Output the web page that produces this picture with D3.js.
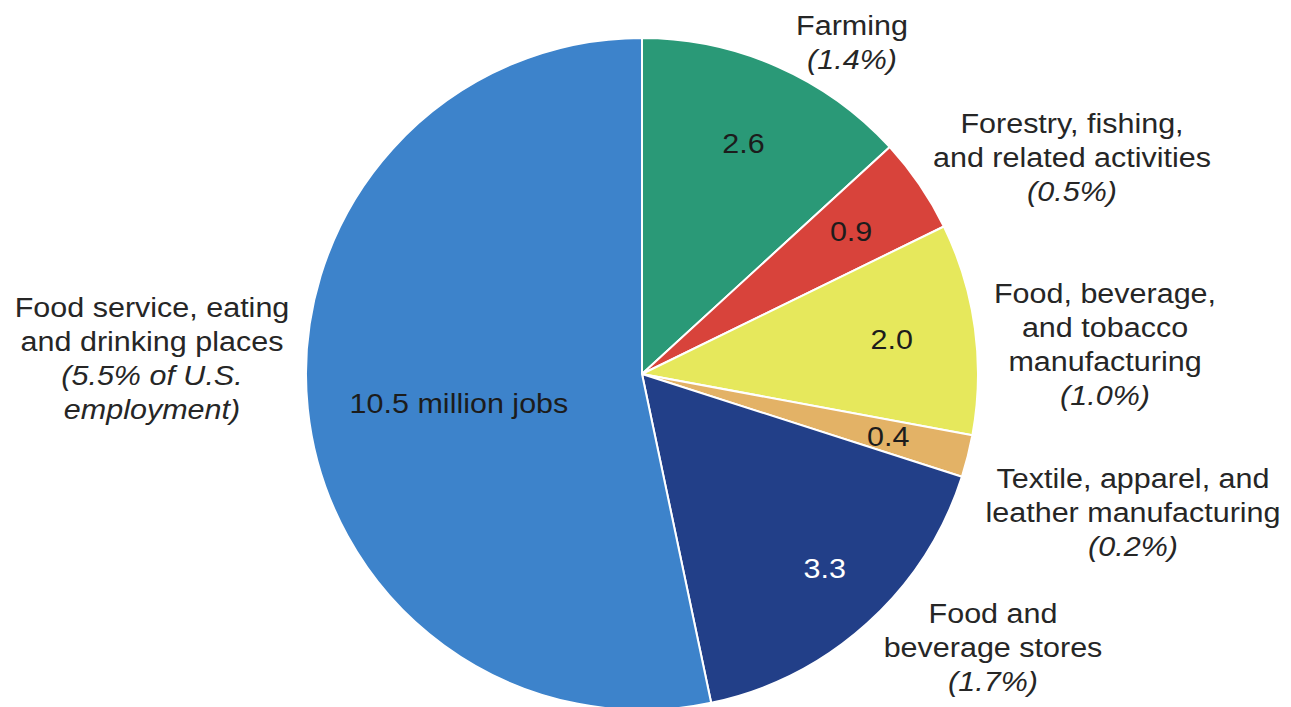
<!DOCTYPE html>
<html>
<head>
<meta charset="utf-8">
<script src="https://cdn.jsdelivr.net/npm/d3@7"></script>
<style>
  html, body { margin: 0; padding: 0; background: #fff; }
  svg { display: block; }
  text { font-family: "Liberation Sans", Arial, Helvetica, sans-serif; }
</style>
</head>
<body>
<svg id="chart" width="1291" height="707"></svg>
<script>
// Food and fiber system employment, millions of jobs
const categories = [
  "Farming",
  "Forestry, fishing, and related activities",
  "Food, beverage, and tobacco manufacturing",
  "Textile, apparel, and leather manufacturing",
  "Food and beverage stores",
  "Food service, eating and drinking places"
];
const jobs = [2.6, 0.9, 2.0, 0.4, 3.3, 10.5];
const valueLabels = ["2.6", "0.9", "2.0", "0.4", "3.3", "10.5 million jobs"];
const shareLabels = ["(1.4%)", "(0.5%)", "(1.0%)", "(0.2%)", "(1.7%)", "(5.5% of U.S.|employment)"];
const nameLines = [
  ["Farming"],
  ["Forestry, fishing,", "and related activities"],
  ["Food, beverage,", "and tobacco", "manufacturing"],
  ["Textile, apparel, and", "leather manufacturing"],
  ["Food and", "beverage stores"],
  ["Food service, eating", "and drinking places"]
];

// layout
const colors = ["#2a9977", "#d8433b", "#e6e85c", "#e3b266", "#223f88", "#3d83cb"];
const valueColors = ["#1c1c1c", "#1c1c1c", "#1c1c1c", "#1c1c1c", "#ffffff", "#1c1c1c"];
const valueRadius = [252, 253, 252, 254, 264, 180];
const valueShiftX = [0, 0, 0, 0, 6, -4];
const valueShiftY = [0, 0, 0, 0, -2, 11];
const outerAnchors = [ // [centre x, first baseline]
  [852, 35], [1072, 133], [1105, 303], [1133, 488], [993, 623], [152, 317]
];
const cx = 642, cy = 374, R = 336;
const fontSize = 27, lineGap = 34, stretch = 1.13;

const svg = d3.select("#chart");
const g = svg.append("g").attr("transform", `translate(${cx},${cy})`);

const pie = d3.pie().sort(null).value(d => d)(jobs);
const arc = d3.arc().innerRadius(0).outerRadius(R);

g.selectAll("path.slice")
  .data(pie)
  .join("path")
  .attr("class", "slice")
  .attr("d", arc)
  .attr("fill", (d, i) => colors[i])
  .attr("stroke", "#ffffff")
  .attr("stroke-width", 2)
  .attr("stroke-linejoin", "round");

// value labels inside the slices
g.selectAll("g.value")
  .data(pie)
  .join("g")
  .attr("class", "value")
  .attr("transform", (d, i) => {
    const c = d3.arc().innerRadius(valueRadius[i]).outerRadius(valueRadius[i]).centroid(d);
    return `translate(${c[0] + valueShiftX[i]},${c[1] + valueShiftY[i]}) scale(${stretch},1)`;
  })
  .append("text")
  .attr("text-anchor", "middle")
  .attr("dy", "0.35em")
  .attr("font-size", fontSize)
  .attr("fill", (d, i) => valueColors[i])
  .text((d, i) => valueLabels[i]);

// category labels around the pie
const labels = svg.selectAll("g.name")
  .data(categories)
  .join("g")
  .attr("class", "name")
  .attr("transform", (d, i) => `translate(${outerAnchors[i][0]},${outerAnchors[i][1]}) scale(${stretch},1)`);

labels.each(function (d, i) {
  const t = d3.select(this).append("text")
    .attr("text-anchor", "middle")
    .attr("font-size", fontSize)
    .attr("fill", "#262626");
  const lines = nameLines[i].map(s => ({ s, it: false }))
    .concat(shareLabels[i].split("|").map(s => ({ s, it: true })));
  lines.forEach((l, k) => {
    t.append("tspan")
      .attr("x", 0)
      .attr("y", k * lineGap)
      .attr("font-style", l.it ? "italic" : "normal")
      .text(l.s);
  });
});
</script>
</body>
</html>
